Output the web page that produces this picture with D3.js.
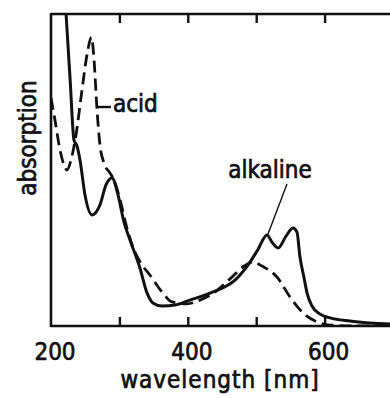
<!DOCTYPE html>
<html>
<head>
<meta charset="utf-8">
<script src="https://cdn.jsdelivr.net/npm/d3@7"></script>
<style>
  body { margin: 0; background: #fff; }
  svg text { font-family: "DejaVu Sans Condensed", "DejaVu Sans", sans-serif; fill: #111; stroke: #111; stroke-width: 0.7px; }
</style>
</head>
<body>
<div id="chart"></div>
<script>
// spectra (arbitrary absorption units, 0..1 = frame height)
var alkalineWl = [219, 222, 228, 233.6, 238, 242.4, 249.7, 260, 271.6, 280.4, 289.2, 298, 306.7, 315.5, 330, 340.4, 349, 362.3, 381.3, 403, 436.8, 469, 491, 502.3, 515.8, 523, 532, 543.6, 553.8, 559.6, 564, 570, 574.3, 581.6, 593.3, 608, 637, 666, 700]
var alkalineAbs = [1.11, 1.0, 0.788, 0.596, 0.577, 0.532, 0.42, 0.356, 0.388, 0.452, 0.474, 0.42, 0.333, 0.276, 0.186, 0.106, 0.074, 0.064, 0.067, 0.083, 0.109, 0.147, 0.205, 0.244, 0.292, 0.269, 0.25, 0.288, 0.314, 0.301, 0.221, 0.154, 0.106, 0.064, 0.038, 0.026, 0.016, 0.01, 0.006]

var acidWl = [200, 205.8, 213.2, 219, 223.4, 229.2, 236.5, 245.3, 252.6, 259.2, 262.9, 267.3, 271.6, 277.5, 286.3, 292, 301, 311, 321.3, 333, 344.7, 362.3, 377, 398.8, 417.8, 439.8, 461.7, 480.7, 495.3, 508.5, 530.4, 549.4, 568.4, 588.9, 608, 652, 700]
var acidAbs = [0.731, 0.66, 0.564, 0.516, 0.5, 0.532, 0.612, 0.756, 0.869, 0.926, 0.853, 0.692, 0.58, 0.522, 0.49, 0.468, 0.404, 0.314, 0.244, 0.196, 0.163, 0.109, 0.077, 0.071, 0.083, 0.109, 0.151, 0.189, 0.205, 0.192, 0.157, 0.093, 0.042, 0.013, 0.003, 0, 0]

var tickLabels = [200, 400, 600]
var minorTicks = [300, 400, 500, 600]

var width = 390
var height = 398

var svg = d3.select("#chart")
    .append("svg")
    .attr("width", width)
    .attr("height", height)

var x = d3.scaleLinear().domain([200, 700]).range([51, 393])
var y = d3.scaleLinear().domain([0, 1]).range([326, 14])

// clip so the alkaline curve stops at the top frame line
svg.append("clipPath").attr("id", "plotclip")
    .append("rect")
    .attr("x", 51).attr("y", 14)
    .attr("width", 345).attr("height", 312)

var line = d3.line()
    .x(function (d) { return x(d[0]) })
    .y(function (d) { return y(d[1]) })
    .curve(d3.curveMonotoneX)

var alkaline = d3.zip(alkalineWl, alkalineAbs)
var acid = d3.zip(acidWl, acidAbs)

var plot = svg.append("g").attr("clip-path", "url(#plotclip)")

plot.append("path")
    .datum(acid)
    .attr("d", line)
    .attr("fill", "none")
    .attr("stroke", "#111")
    .attr("stroke-width", 2.8)
    .attr("stroke-dasharray", "12,6")

plot.append("path")
    .datum(alkaline)
    .attr("d", line)
    .attr("fill", "none")
    .attr("stroke", "#111")
    .attr("stroke-width", 3)

// frame: bottom, left and top lines
var frame = svg.append("g").attr("stroke", "#111").attr("stroke-width", 2.6)
frame.append("line").attr("x1", 51).attr("x2", width).attr("y1", 326).attr("y2", 326)
frame.append("line").attr("x1", 51).attr("x2", 51).attr("y1", 13).attr("y2", 327)
frame.append("line").attr("x1", 51).attr("x2", width).attr("y1", 14).attr("y2", 14)

// inward ticks on bottom and top
var bottomAxis = d3.axisBottom(x).tickValues(minorTicks).tickSize(-9).tickFormat("")
var topAxis = d3.axisTop(x).tickValues(minorTicks).tickSize(-9).tickFormat("")
var gb = svg.append("g").attr("transform", "translate(0,326)").call(bottomAxis)
var gt = svg.append("g").attr("transform", "translate(0,14)").call(topAxis)
gb.select(".domain").remove()
gt.select(".domain").remove()
svg.selectAll(".tick line").attr("stroke", "#111").attr("stroke-width", 2.4)

// tick labels
svg.selectAll(".xlab")
    .data(tickLabels)
    .enter()
    .append("text")
    .attr("class", "xlab")
    .attr("x", function (d) { return x(d) + 4 })
    .attr("y", 360)
    .attr("text-anchor", "middle")
    .style("font-size", "24px")
    .text(function (d) { return d })

svg.append("text")
    .attr("x", 220)
    .attr("y", 388)
    .attr("text-anchor", "middle")
    .style("font-size", "24px")
    .style("letter-spacing", "1px")
    .text("wavelength [nm]")

svg.append("text")
    .attr("transform", "translate(36,138) rotate(-90)")
    .attr("text-anchor", "middle")
    .style("font-size", "24px")
    .text("absorption")

// curve labels with leader lines
svg.append("line")
    .attr("x1", 96).attr("x2", 111).attr("y1", 107).attr("y2", 107)
    .attr("stroke", "#111").attr("stroke-width", 2.4)
svg.append("text")
    .attr("x", 113)
    .attr("y", 112)
    .style("font-size", "24px")
    .text("acid")

svg.append("line")
    .attr("x1", 287).attr("y1", 184)
    .attr("x2", 268).attr("y2", 234)
    .attr("stroke", "#111").attr("stroke-width", 1.4)
svg.append("text")
    .attr("x", 270)
    .attr("y", 178)
    .attr("text-anchor", "middle")
    .style("font-size", "24px")
    .text("alkaline")
</script>
</body>
</html>
